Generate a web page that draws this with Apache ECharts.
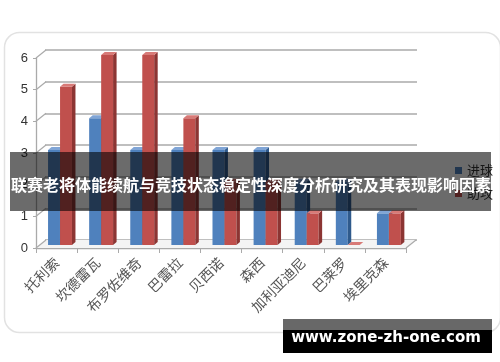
<!DOCTYPE html>
<html>
<head>
<meta charset="utf-8">
<script src="https://cdn.jsdelivr.net/npm/echarts@6/dist/echarts.min.js"></script>
<style>
html,body{margin:0;padding:0;background:#fff;}
#main{width:500px;height:362px;}
</style>
</head>
<body>
<div id="main"></div>
<script>
const categories = ['托利索','坎德雷瓦','布罗佐维奇','巴雷拉','贝西诺','森西','加利亚迪尼','巴莱罗','埃里克森'];
const goals = [3,4,3,3,3,3,2,2,1];
const assists = [5,6,6,4,2,2,1,0,1];
const yTicks = [0,1,2,3,4,5,6];
const seriesNames = ['进球','助攻'];
const titleText = '联赛老将体能续航与竞技状态稳定性深度分析研究及其表现影响因素';
const watermark = 'www.zone-zh-one.com';

const chart = echarts.init(document.getElementById('main'));

function barRenderer(offsetFrac, colFront, colSide, colTop){
  return function(params, api){
    const cat = api.value(0), v = api.value(1);
    const base = api.coord([cat, 0]);
    const top = api.coord([cat, v]);
    const band = api.size([1,0])[0];
    const w = band*0.29;
    const x0 = base[0] + offsetFrac*band;
    const sh = -3, dx = 3.5, dy = 3;
    const yb = base[1]+sh, yt = top[1]+sh;
    return {type:'group', children:[
      {type:'rect', shape:{x:x0, y:yt, width:w, height:Math.max(0,yb-yt)}, style:{fill:colFront}},
      {type:'polygon', shape:{points:[[x0+w,yt],[x0+w+dx,yt-dy],[x0+w+dx,yb-dy],[x0+w,yb]]}, style:{fill:colSide}},
      {type:'polygon', shape:{points:[[x0,yt],[x0+dx,yt-dy],[x0+w+dx,yt-dy],[x0+w,yt]]}, style:{fill:colTop}}
    ]};
  };
}

function frameRenderer(params, api){
  const v = api.value(1);
  const cs = params.coordSys;
  const y = api.coord([0, v])[1];
  const children = [
    {type:'line', shape:{x1:cs.x, y1:y, x2:cs.x+10, y2:y-8}, style:{stroke:'#aaa', lineWidth:1.3}}
  ];
  if (v === 0){
    children.push({type:'line', shape:{x1:cs.x+cs.width, y1:y, x2:cs.x+cs.width+10, y2:y-8}, style:{stroke:'#aaa', lineWidth:1.3}});
    children.push({type:'polygon', shape:{points:[[cs.x,y],[cs.x+10,y-8],[cs.x+cs.width+10,y-8],[cs.x+cs.width,y]]}, style:{fill:'#f4f4f4'}, z2:-1});
  }
  return {type:'group', children};
}

const option = {
  animation:false,
  backgroundColor:'#fff',
  legend:{
    data:seriesNames, orient:'vertical', left:450, top:159,
    itemWidth:7, itemHeight:7, itemGap:10, icon:'rect',
    textStyle:{fontSize:13, color:'#333', fontFamily:'Noto Sans CJK SC'}
  },
  grid:[
    {left:45, right:83, top:50, bottom:122},
    {left:36, right:94, top:58, bottom:114}
  ],
  xAxis:[
    {gridIndex:0, type:'category', data:categories, show:false},
    {gridIndex:1, type:'category', data:categories,
     axisLine:{show:true, lineStyle:{color:'#aaa', width:1.3}},
     axisTick:{show:true, interval:0, length:5, lineStyle:{color:'#aaa'}},
     axisLabel:{interval:0, rotate:45, margin:12, fontSize:14, color:'#555', fontFamily:'Noto Sans CJK SC'}}
  ],
  yAxis:[
    {gridIndex:0, type:'value', min:0, max:6, interval:1, axisLabel:{show:false}, axisLine:{show:false}, axisTick:{show:false},
     splitLine:{show:true, lineStyle:{color:'#aaa', width:1.5}}},
    {gridIndex:1, type:'value', min:0, max:6, interval:1,
     axisLine:{show:true, lineStyle:{color:'#aaa', width:1.3}},
     axisTick:{show:true, length:3, lineStyle:{color:'#aaa'}},
     splitLine:{show:false},
     axisLabel:{fontSize:13, color:'#333', margin:8, fontFamily:'Liberation Sans'}}
  ],
  series:[
    {type:'custom', name:'frame', xAxisIndex:1, yAxisIndex:1, silent:true, z:1,
     data:yTicks.map(v=>[0,v]), renderItem:frameRenderer},
    {type:'custom', name:seriesNames[0], xAxisIndex:1, yAxisIndex:1, z:3,
     itemStyle:{color:'#4f81bd'},
     data:goals.map((v,i)=>[i,v]),
     renderItem:barRenderer(-0.207,'#4f81bd','#2f5a8c','#80a5d6')},
    {type:'custom', name:seriesNames[1], xAxisIndex:1, yAxisIndex:1, z:4,
     itemStyle:{color:'#c0504d'},
     data:assists.map((v,i)=>[i,v]),
     renderItem:barRenderer(0.085,'#c0504d','#8c3533','#d87a77')}
  ],
  graphic:[
    {type:'rect', left:2, top:30, z:0, shape:{width:496, height:300, r:15}, style:{fill:'none', stroke:'#e2e2e2', lineWidth:1.5}},
    {type:'rect', z:100, shape:{x:10, y:152, width:481, height:59}, style:{fill:'rgba(0,0,0,0.58)'}},
    {type:'text', z:101, x:251, y:185, style:{text:titleText, fill:'#fff', font:'bold 16px "Noto Sans CJK SC"', textAlign:'center', textVerticalAlign:'middle'}},
    {type:'rect', z:100, shape:{x:283, y:319, width:209, height:34}, style:{fill:'#000'}},
    {type:'rect', z:100, shape:{x:283, y:319, width:209, height:11}, style:{fill:'#686868'}},
    {type:'text', z:101, x:386, y:338, style:{text:watermark, fill:'#fff', font:'bold 15px "DejaVu Sans"', textAlign:'center', textVerticalAlign:'middle'}}
  ]
};
chart.setOption(option);
</script>
</body>
</html>
